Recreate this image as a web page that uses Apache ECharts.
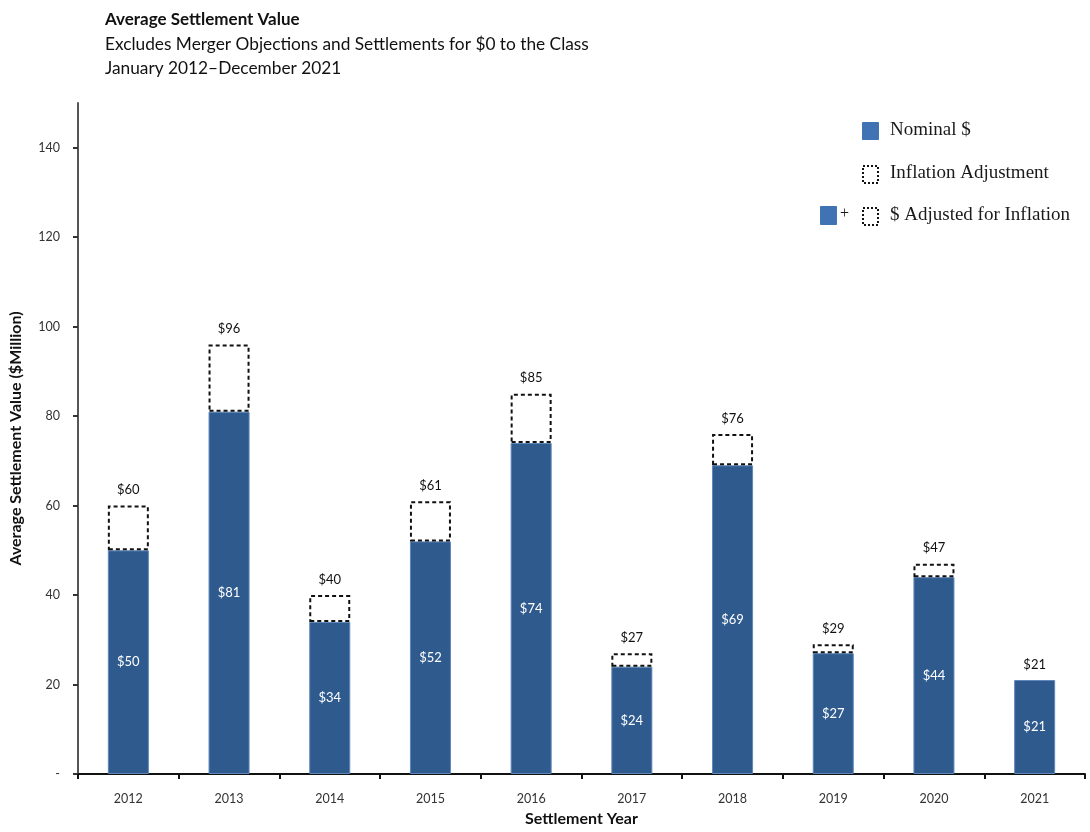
<!DOCTYPE html>
<html>
<head>
<meta charset="utf-8">
<title>Average Settlement Value</title>
<script src="https://cdn.jsdelivr.net/npm/echarts@6/dist/echarts.min.js"></script>
<style>
  html, body { margin: 0; padding: 0; background: #fff; }
  #chart { width: 1090px; height: 832px; }
</style>
</head>
<body>
<div id="chart"></div>
<script>
// Settlement years and average values ($ million)
const years = ['2012', '2013', '2014', '2015', '2016', '2017', '2018', '2019', '2020', '2021'];
const nominal = [50, 81, 34, 52, 74, 24, 69, 27, 44, 21];
const adjusted = [60, 96, 40, 61, 85, 27, 76, 29, 47, 21];
const yTicks = [0, 20, 40, 60, 80, 100, 120, 140];

const BLUE = '#2F5A8E';
const BLUE_EDGE = '#5D86BA';
const DASH = [4, 3];

// Inflation adjustment = adjusted minus nominal, stacked on top of nominal
const adjustment = adjusted.map((v, i) => {
  const d = v - nominal[i];
  return d > 0 ? { value: d } : { value: d, itemStyle: { borderWidth: 0 } };
});

const chart = echarts.init(document.getElementById('chart'), null, { renderer: 'canvas' });

const legendFont = '19px "Liberation Serif", "DejaVu Serif", serif';
const SANS = 'Lato, "Open Sans", "Noto Sans", sans-serif';

chart.setOption({
  animation: false,
  backgroundColor: '#fff',
  textStyle: { fontFamily: SANS },
  title: {
    left: 100,
    top: 6,
    text: 'Average Settlement Value',
    textStyle: { fontSize: 17, fontWeight: 'bold', color: '#111', fontFamily: SANS },
    subtext: 'Excludes Merger Objections and Settlements for $0 to the Class\nJanuary 2012\u2013December 2021',
    subtextStyle: { fontSize: 17.3, color: '#111', lineHeight: 24, fontFamily: SANS },
    itemGap: 4
  },
  grid: { left: 77, right: 5, top: 103, bottom: 48, containLabel: false },
  xAxis: {
    type: 'category',
    data: years,
    name: 'Settlement Year',
    nameLocation: 'middle',
    nameGap: 37,
    nameTextStyle: { fontSize: 16, fontWeight: 'bold', color: '#111' },
    axisLine: { lineStyle: { color: '#111', width: 2 } },
    axisTick: { show: true, alignWithLabel: false, length: 5, lineStyle: { color: '#111', width: 2 } },
    axisLabel: { color: '#333', fontSize: 12.5, margin: 18 }
  },
  yAxis: {
    type: 'value',
    min: 0,
    max: 150,
    interval: 10,
    name: 'Average Settlement Value ($Million)',
    nameLocation: 'middle',
    nameGap: 54,
    nameTextStyle: { fontSize: 16, fontWeight: 'bold', color: '#111' },
    splitLine: { show: false },
    axisLine: { show: true, lineStyle: { color: '#555', width: 2 } },
    axisTick: { show: true, length: 5, customValues: yTicks, lineStyle: { color: '#333', width: 2 } },
    axisLabel: {
      color: '#333', fontSize: 12.5, margin: 18,
      customValues: yTicks,
      formatter: v => (v === 0 ? '-' : String(v))
    }
  },
  series: [
    {
      name: 'Nominal $',
      type: 'bar',
      stack: 'total',
      barWidth: 41,
      data: nominal,
      itemStyle: { color: BLUE, borderColor: BLUE_EDGE, borderWidth: 1 },
      label: {
        show: true,
        position: 'inside',
        color: '#fff',
        fontSize: 13,
        formatter: p => '$' + nominal[p.dataIndex]
      }
    },
    {
      name: 'Inflation Adjustment',
      type: 'bar',
      stack: 'total',
      barWidth: 41,
      data: adjustment,
      itemStyle: {
        color: 'rgba(255,255,255,0)',
        borderColor: '#111',
        borderWidth: 2,
        borderType: DASH
      },
      label: {
        show: true,
        position: 'top',
        distance: 9,
        color: '#111',
        fontSize: 13,
        formatter: p => '$' + adjusted[p.dataIndex]
      }
    }
  ],
  graphic: [
    // Nominal $
    { type: 'rect', left: 862, top: 122, shape: { width: 16, height: 17 },
      style: { fill: '#3F73B4', stroke: '#3F73B4' } },
    { type: 'text', left: 890, top: 121, style: { text: 'Nominal $', font: legendFont, fill: '#1a1a1a' } },
    // Inflation Adjustment
    { type: 'rect', left: 862, top: 165, shape: { width: 15, height: 17 },
      style: { fill: '#fff', stroke: '#111', lineWidth: 2, lineDash: [2, 2] } },
    { type: 'text', left: 890, top: 164, style: { text: 'Inflation Adjustment', font: legendFont, fill: '#1a1a1a' } },
    // $ Adjusted for Inflation
    { type: 'rect', left: 820, top: 206, shape: { width: 16, height: 18 },
      style: { fill: '#3F73B4', stroke: '#3F73B4' } },
    { type: 'text', left: 840, top: 206, style: { text: '+', font: '16px "Liberation Serif", serif', fill: '#1a1a1a' } },
    { type: 'rect', left: 862, top: 207, shape: { width: 15, height: 17 },
      style: { fill: '#fff', stroke: '#111', lineWidth: 2, lineDash: [2, 2] } },
    { type: 'text', left: 890, top: 206, style: { text: '$ Adjusted for Inflation', font: legendFont, fill: '#1a1a1a' } }
  ]
});
</script>
</body>
</html>
